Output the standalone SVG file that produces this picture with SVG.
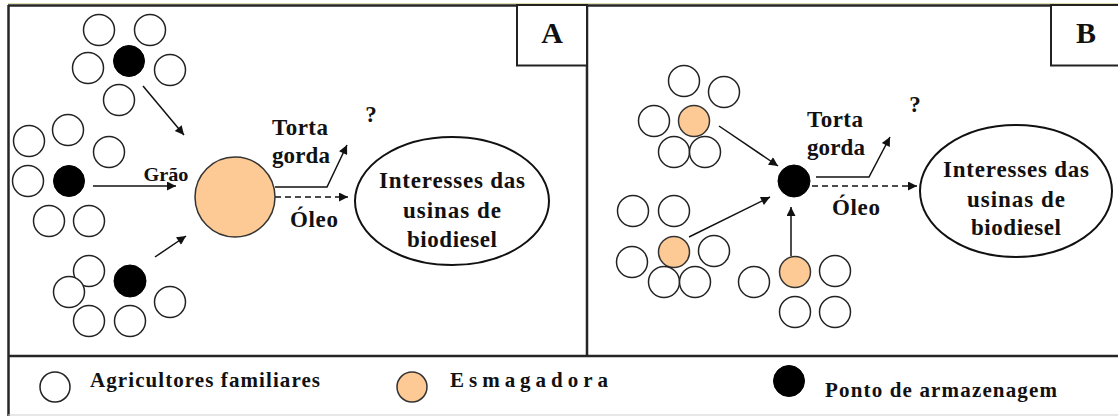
<svg xmlns="http://www.w3.org/2000/svg" width="1118" height="416" viewBox="0 0 1118 416">
  <style>
    .t { font-family: 'Liberation Serif', 'DejaVu Serif', serif; font-weight: bold; fill: #111; }
    .lg { font-size: 21px; }
    .md { font-size: 23px; text-anchor: middle; }
    .sm { font-size: 19px; text-anchor: middle; }
    .big { font-size: 30px; text-anchor: middle; }
    .farm { fill: #fff; stroke: #222; stroke-width: 1.5; }
    .crush { fill: #fdc994; stroke: #333; stroke-width: 1.5; }
    .store { fill: #000; stroke: #000; stroke-width: 1; }
    .frame { fill: none; stroke: #262626; stroke-width: 2.5; }
    .edge { fill: none; stroke: #111; stroke-width: 1.5; marker-end: url(#head); }
    .dash { stroke-dasharray: 6 4; }
    .oval { fill: #fff; stroke: #111; stroke-width: 2; }
  </style>
  <defs>
    <marker id="head" viewBox="0 0 10 10" refX="10" refY="5" markerUnits="userSpaceOnUse" markerWidth="11" markerHeight="9" orient="auto">
      <path d="M0,0 L10,5 L0,10 Z" fill="#111"/>
    </marker>
  </defs>

  <rect width="1118" height="416" fill="#fff"/>

  <!-- frame, panel divider, legend separator -->
  <g id="frame">
    <line x1="8" y1="3.5" x2="1118" y2="3.5" stroke="#dcdca8" stroke-width="1"/>
    <line x1="8" y1="5.5" x2="1118" y2="5.5" class="frame"/>
    <line x1="8.5" y1="5" x2="8.5" y2="416" class="frame"/>
    <line x1="587" y1="5" x2="587" y2="356" class="frame" stroke-width="2"/>
    <line x1="8" y1="356" x2="1118" y2="356" class="frame"/>
    <line x1="8" y1="415" x2="1118" y2="415" stroke="#cfcfcf" stroke-width="1.2"/>
  </g>

  <g id="label-a">
    <rect x="517" y="5" width="70" height="60.5" fill="#fff" stroke="#222" stroke-width="2"/>
    <text class="t big" x="552" y="43">A</text>
  </g>
  <g id="label-b">
    <rect x="1051" y="5" width="80" height="60.5" fill="#fff" stroke="#222" stroke-width="2"/>
    <text class="t big" x="1086" y="43">B</text>
  </g>

  <!-- connectors -->
  <g id="connectors">
    <line class="edge" x1="143" y1="86" x2="184" y2="135"/>
    <line class="edge" x1="93" y1="186" x2="176" y2="186"/>
    <line class="edge" x1="155" y1="257" x2="186" y2="236"/>
    <polyline class="edge" points="275,187 327,187 347,145"/>
    <line class="edge dash" x1="275" y1="197" x2="348" y2="197"/>

    <line class="edge" x1="719" y1="126" x2="778" y2="166"/>
    <line class="edge" x1="689" y1="237" x2="770" y2="197"/>
    <line class="edge" x1="791" y1="256" x2="791" y2="207"/>
    <polyline class="edge" points="816,177 869,177 890,137"/>
    <line class="edge dash" x1="812" y1="186" x2="917" y2="186"/>
  </g>

  <!-- panel A -->
  <g id="a-group-top">
    <circle class="farm" cx="99" cy="30" r="15.5"/>
    <circle class="farm" cx="150" cy="30" r="15.5"/>
    <circle class="store" cx="129" cy="61" r="15.5"/>
    <circle class="farm" cx="88" cy="68" r="15.5"/>
    <circle class="farm" cx="170" cy="70" r="15.5"/>
    <circle class="farm" cx="119" cy="100" r="15.5"/>
  </g>
  <g id="a-group-middle">
    <circle class="farm" cx="29" cy="141" r="15.5"/>
    <circle class="farm" cx="68" cy="130" r="15.5"/>
    <circle class="farm" cx="109" cy="152" r="15.5"/>
    <circle class="farm" cx="28" cy="181" r="15.5"/>
    <circle class="store" cx="69" cy="181" r="15.5"/>
    <circle class="farm" cx="49" cy="221" r="15.5"/>
    <circle class="farm" cx="89" cy="221" r="15.5"/>
  </g>
  <g id="a-group-bottom">
    <circle class="farm" cx="89" cy="271" r="15.5"/>
    <circle class="farm" cx="69" cy="292" r="15.5"/>
    <circle class="store" cx="130" cy="281" r="16"/>
    <circle class="farm" cx="170" cy="302" r="15.5"/>
    <circle class="farm" cx="89" cy="321" r="15.5"/>
    <circle class="farm" cx="130" cy="321" r="15.5"/>
  </g>
  <g id="a-crusher">
    <circle class="crush" cx="235" cy="197" r="40"/>
  </g>
  <g id="a-labels">
    <text class="t sm" x="166" y="181" textLength="45" lengthAdjust="spacingAndGlyphs">Grão</text>
    <text class="t md" x="300" y="135" textLength="56">Torta</text>
    <text class="t md" x="301" y="163" textLength="58">gorda</text>
    <text class="t md" x="371" y="122">?</text>
    <text class="t md" x="314" y="227" textLength="48">Óleo</text>
  </g>
  <g id="a-plants">
    <ellipse class="oval" cx="452" cy="201" rx="97" ry="64"/>
    <text class="t md" x="452" y="188" textLength="146">Interesses das</text>
    <text class="t md" x="452" y="218" textLength="98">usinas de</text>
    <text class="t md" x="452" y="247" textLength="90">biodiesel</text>
  </g>

  <!-- panel B -->
  <g id="b-group-top">
    <circle class="farm" cx="684" cy="81" r="15.5"/>
    <circle class="farm" cx="724" cy="92" r="15.5"/>
    <circle class="farm" cx="654" cy="121" r="15.5"/>
    <circle class="crush" cx="694" cy="121" r="15.5"/>
    <circle class="farm" cx="674" cy="152" r="15.5"/>
    <circle class="farm" cx="705" cy="152" r="15.5"/>
  </g>
  <g id="b-group-left">
    <circle class="farm" cx="633" cy="211" r="15.5"/>
    <circle class="farm" cx="674" cy="211" r="15.5"/>
    <circle class="farm" cx="632" cy="262" r="15.5"/>
    <circle class="crush" cx="674" cy="252" r="15.5"/>
    <circle class="farm" cx="714" cy="251" r="15.5"/>
    <circle class="farm" cx="664" cy="282" r="15.5"/>
    <circle class="farm" cx="695" cy="282" r="15.5"/>
  </g>
  <g id="b-group-right">
    <circle class="farm" cx="754" cy="282" r="15.5"/>
    <circle class="crush" cx="795" cy="272" r="15.5"/>
    <circle class="farm" cx="835" cy="271" r="15.5"/>
    <circle class="farm" cx="795" cy="312" r="15.5"/>
    <circle class="farm" cx="835" cy="312" r="15.5"/>
  </g>
  <g id="b-storage">
    <circle class="store" cx="794" cy="181" r="16"/>
  </g>
  <g id="b-labels">
    <text class="t md" x="835" y="127" textLength="56">Torta</text>
    <text class="t md" x="836" y="155" textLength="58">gorda</text>
    <text class="t md" x="915" y="112">?</text>
    <text class="t md" x="856" y="215" textLength="48">Óleo</text>
  </g>
  <g id="b-plants">
    <ellipse class="oval" cx="1016" cy="191" rx="96" ry="66"/>
    <text class="t md" x="1016" y="177" textLength="146">Interesses das</text>
    <text class="t md" x="1016" y="207" textLength="98">usinas de</text>
    <text class="t md" x="1016" y="235" textLength="90">biodiesel</text>
  </g>

  <!-- legend -->
  <g id="legend-farmers">
    <circle class="farm" cx="55" cy="387" r="15"/>
    <text class="t lg" x="90" y="387" textLength="230">Agricultores familiares</text>
  </g>
  <g id="legend-crusher">
    <circle class="crush" cx="412" cy="387" r="15"/>
    <text class="t lg" x="450" y="387" textLength="158">Esmagadora</text>
  </g>
  <g id="legend-storage">
    <circle class="store" cx="789" cy="381" r="15.5"/>
    <text class="t lg" x="825" y="397" textLength="232">Ponto de armazenagem</text>
  </g>
</svg>
